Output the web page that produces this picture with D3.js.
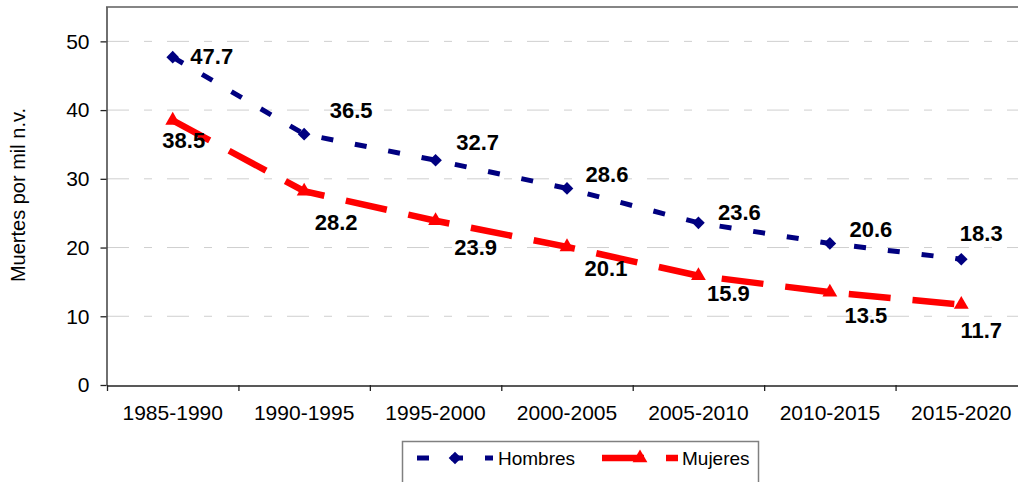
<!DOCTYPE html>
<html>
<head>
<meta charset="utf-8">
<script src="https://cdn.jsdelivr.net/npm/d3@7"></script>
<style>
  body { margin: 0; background: #fff; }
  svg { display: block; font-family: "Liberation Sans", Arial, sans-serif; }
</style>
</head>
<body>
<script>
// chart data
let periods = ['1985-1990', '1990-1995', '1995-2000', '2000-2005', '2005-2010', '2010-2015', '2015-2020'];
let hombres = [47.7, 36.5, 32.7, 28.6, 23.6, 20.6, 18.3];
let mujeres = [38.5, 28.2, 23.9, 20.1, 15.9, 13.5, 11.7];
let yTicks = [0, 10, 20, 30, 40, 50];

// label nudges (px from the point), layout only
let hombresLabelShift = [[39, -1], [47, -24], [42, -18], [40, -14], [41, -10], [41, -14], [20, -26]];
let mujeresLabelShift = [[11, 20], [32, 31], [40, 27], [39, 22], [30, 18], [36, 23], [20, 26]];

let svgWidth = 1018;
let svgHeight = 482;

let svg = d3.select('body')
  .append('svg')
  .attr('width', svgWidth)
  .attr('height', svgHeight);

// scales
let xScale = d3.scaleBand()
  .domain(periods)
  .range([107, 1027])
  .padding(0);
let yScale = d3.scaleLinear()
  .domain([0, 55])
  .range([385, 7]);
let cx = d => xScale(d) + xScale.bandwidth() / 2;

// gridlines
svg.append('g')
  .selectAll('line')
  .data(yTicks.filter(d => d > 0))
  .enter()
  .append('line')
  .attr('x1', 107)
  .attr('x2', svgWidth)
  .attr('y1', d => yScale(d))
  .attr('y2', d => yScale(d))
  .attr('stroke', '#cfcfcf')
  .attr('stroke-width', 1)
  .attr('stroke-dasharray', '22,15,8,15');

// top border of plot area
svg.append('line')
  .attr('x1', 106).attr('x2', svgWidth)
  .attr('y1', yScale(55)).attr('y2', yScale(55))
  .attr('stroke', '#858585')
  .attr('stroke-width', 2);

// y axis
let yAxis = d3.axisLeft(yScale)
  .tickValues(yTicks)
  .tickSize(6)
  .tickSizeOuter(0)
  .tickPadding(11);
let yG = svg.append('g')
  .attr('transform', 'translate(106.5,0)')
  .call(yAxis);
yG.selectAll('text')
  .style('font-size', '21px')
  .attr('fill', '#000')
  .attr('font-family', '"Liberation Sans", Arial, sans-serif');
yG.selectAll('path, line').attr('stroke', '#222').attr('stroke-width', 1.3);

// x axis labels
let xAxis = d3.axisBottom(xScale)
  .tickSize(0)
  .tickSizeOuter(0)
  .tickPadding(20);
let xG = svg.append('g')
  .attr('transform', 'translate(0,385.5)')
  .call(xAxis);
xG.select('.domain').attr('stroke', '#222').attr('stroke-width', 1.3);
xG.selectAll('text')
  .style('font-size', '21px')
  .attr('fill', '#000')
  .attr('font-family', '"Liberation Sans", Arial, sans-serif');

// x ticks between categories
svg.append('g')
  .selectAll('line')
  .data(periods)
  .enter()
  .append('line')
  .attr('x1', d => xScale(d) + 0.5)
  .attr('x2', d => xScale(d) + 0.5)
  .attr('y1', 385)
  .attr('y2', 391)
  .attr('stroke', '#222')
  .attr('stroke-width', 1.3);

// y axis title
svg.append('text')
  .attr('transform', 'translate(25,' + 195 + ') rotate(-90)')
  .attr('text-anchor', 'middle')
  .style('font-size', '20px')
  .text('Muertes por mil n.v.');

// lines
let createLine = d3.line()
  .x((d, i) => cx(periods[i]))
  .y(d => yScale(d));

svg.append('path')
  .attr('d', createLine(mujeres))
  .attr('fill', 'none')
  .attr('stroke', '#ff0000')
  .attr('stroke-width', 6.5)
  .attr('stroke-dasharray', '42,22');

svg.append('path')
  .attr('d', createLine(hombres))
  .attr('fill', 'none')
  .attr('stroke', '#000080')
  .attr('stroke-width', 5)
  .attr('stroke-dasharray', '12,22');

// markers
let diamond = d3.symbol().type(d3.symbolSquare).size(80);
let triangle = d3.symbol().type(d3.symbolTriangle).size(95);

svg.append('g')
  .selectAll('path')
  .data(hombres)
  .enter()
  .append('path')
  .attr('d', diamond)
  .attr('transform', (d, i) => `translate(${cx(periods[i])},${yScale(d)}) rotate(45)`)
  .attr('fill', '#000080');

svg.append('g')
  .selectAll('path')
  .data(mujeres)
  .enter()
  .append('path')
  .attr('d', triangle)
  .attr('transform', (d, i) => `translate(${cx(periods[i])},${yScale(d)})`)
  .attr('fill', '#ff0000');

// data labels
function addLabels(values, shifts) {
  svg.append('g')
    .selectAll('text')
    .data(values)
    .enter()
    .append('text')
    .attr('x', (d, i) => cx(periods[i]) + shifts[i][0])
    .attr('y', (d, i) => yScale(d) + shifts[i][1])
    .attr('text-anchor', 'middle')
    .attr('dominant-baseline', 'central')
    .style('font-size', '22px')
    .style('font-weight', 'bold')
    .text(d => d.toFixed(1));
}
addLabels(hombres, hombresLabelShift);
addLabels(mujeres, mujeresLabelShift);

// legend
let legend = svg.append('g');
legend.append('rect')
  .attr('x', 402.5).attr('y', 441.5)
  .attr('width', 356).attr('height', 60)
  .attr('fill', '#fff')
  .attr('stroke', '#808080')
  .attr('stroke-width', 1.5);

let legendItems = [
  { name: 'Hombres', color: '#000080', width: 5, dash: '12,22', sym: diamond, rot: 45, x: 417, text: 498 },
  { name: 'Mujeres', color: '#ff0000', width: 6.5, dash: '42,22', sym: triangle, rot: 0, x: 602, text: 682 }
];
legendItems.forEach(item => {
  legend.append('line')
    .attr('x1', item.x).attr('x2', item.x + 76)
    .attr('y1', 458).attr('y2', 458)
    .attr('stroke', item.color)
    .attr('stroke-width', item.width)
    .attr('stroke-dasharray', item.dash);
  legend.append('path')
    .attr('d', item.sym)
    .attr('transform', `translate(${item.x + 38},458) rotate(${item.rot})`)
    .attr('fill', item.color);
  legend.append('text')
    .attr('x', item.text)
    .attr('y', 458)
    .attr('dominant-baseline', 'central')
    .style('font-size', '19px')
    .text(item.name);
});
</script>
</body>
</html>
